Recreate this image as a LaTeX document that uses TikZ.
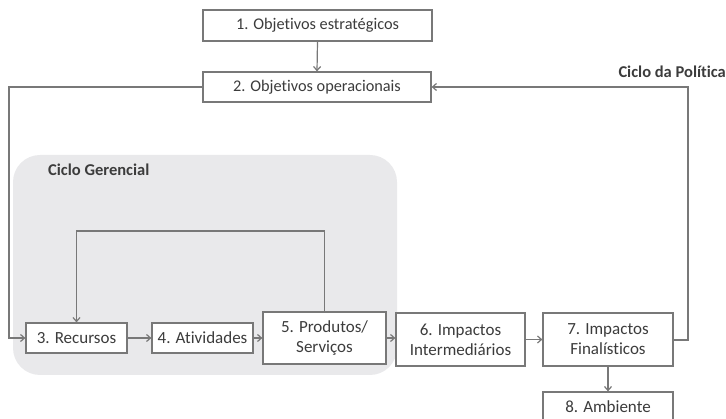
\documentclass[tikz,border=0pt]{standalone}
\usepackage{fontspec}
\setmainfont{Carlito}[Ligatures=NoCommon]
\usetikzlibrary{arrows.meta}
\definecolor{lncol}{RGB}{120,120,120}
\definecolor{txcol}{RGB}{60,60,60}
\definecolor{bgcol}{RGB}{233,233,235}
\tikzset{
  box/.style={draw=lncol, line width=1.2pt, fill=white, text=txcol, inner sep=0pt,
    align=center, font=\fontsize{17}{20}\selectfont},
  topbox/.style={box, font=\fontsize{16.3}{19}\selectfont},
  conn/.style={draw=lncol, line width=1.2pt, -{Straight Barb[length=4pt,width=7pt]}},
  lbl/.style={text=txcol, font=\bfseries\fontsize{16.5}{19}\selectfont, inner sep=0pt}
}
\begin{document}
\begin{tikzpicture}[x=1pt,y=1pt]
\useasboundingbox (0,0) rectangle (726,-419);
\fill[bgcol, rounded corners=27pt] (13,-155) rectangle (397,-375);
\node[lbl, anchor=west] (cg) at (48,-170) {Ciclo Gerencial};
\node[lbl, anchor=east] (cp) at (726,-72) {Ciclo da Política};

\node[topbox, minimum width=229pt, minimum height=31pt] (b1) at (317.5,-25.5) {1. Objetivos estratégicos};
\node[topbox, minimum width=228pt, minimum height=30pt] (b2) at (317,-87) {2. Objetivos operacionais};
\node[box, minimum width=101pt, minimum height=30pt] (b3) at (76.5,-338) {3. Recursos};
\node[box, minimum width=101pt, minimum height=30pt] (b4) at (202.5,-338) {4. Atividades};
\node[box, minimum width=123pt, minimum height=52pt] (b5) at (324.5,-338) {5. Produtos/\\Serviços};
\node[box, minimum width=129pt, minimum height=53pt] (b6) at (460.5,-339.5) {6. Impactos\\Intermediários};
\node[box, minimum width=130pt, minimum height=53pt] (b7) at (608,-339.5) {7. Impactos\\Finalísticos};
\node[box, minimum width=130pt, minimum height=30pt] (b8) at (608,-407) {8. Ambiente};

\coordinate (lt) at (9,-87);
\coordinate (lb) at (9,-338);
\coordinate (rb) at (688,-340);
\coordinate (rt) at (688,-87);
\coordinate (loopr) at (324.5,-231);
\coordinate (loopl) at (76.5,-231);

\draw[conn] (b1.south) -- (b2.north);
\draw[conn] (b2.west) -- (lt) -- (lb) -- (b3.west);
\draw[conn] (b7.east |- rb) -- (rb) -- (rt) -- (b2.east);
\draw[conn] (b5.north) -- (loopr) -- (loopl) -- (b3.north);
\draw[conn] (b3.east) -- (b4.west);
\draw[conn] (b4.east) -- (b5.west);
\draw[conn] (b5.east) -- (b5.east -| b6.west);
\draw[conn] (b6.east) -- (b7.west);
\draw[conn] (b7.south) -- (b8.north);
\end{tikzpicture}
\end{document}
